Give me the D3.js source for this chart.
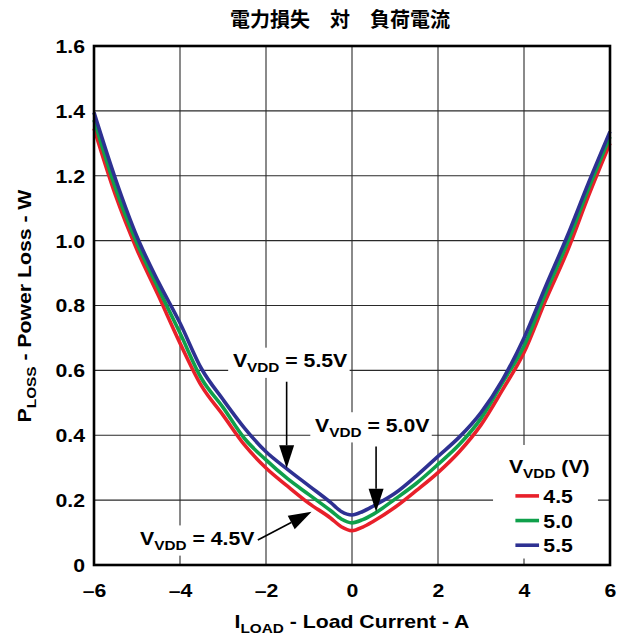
<!DOCTYPE html>
<html>
<head>
<meta charset="utf-8">
<script src="https://cdn.jsdelivr.net/npm/d3@7"></script>
<style>
  html, body { margin: 0; padding: 0; background: #fff; }
  svg { display: block; }
  text { font-family: "Liberation Sans", Arial, Helvetica, sans-serif; font-weight: bold; fill: #000; }
</style>
</head>
<body>
<svg id="chart" width="629" height="641"></svg>
<script>
// Load current (A) at which the loss was sampled
const current = [-6, -5.5, -5, -4.5, -4, -3.5, -3, -2.5, -2, -1.5, -1, -0.5, -0.25, 0,
                 0.25, 0.5, 1, 1.5, 2, 2.5, 3, 3.5, 4, 4.5, 5, 5.5, 6];

// Power loss (W) for each supply voltage
const loss45 = [1.346, 1.140, 0.972, 0.830, 0.684, 0.552, 0.462, 0.370, 0.299, 0.243, 0.190, 0.145, 0.118, 0.106,
                0.117, 0.135, 0.178, 0.230, 0.285, 0.350, 0.432, 0.540, 0.655, 0.815, 0.965, 1.138, 1.300];
const loss50 = [1.372, 1.162, 0.992, 0.852, 0.715, 0.575, 0.486, 0.390, 0.324, 0.266, 0.217, 0.168, 0.142, 0.130,
                0.140, 0.157, 0.203, 0.252, 0.310, 0.372, 0.452, 0.562, 0.675, 0.837, 0.990, 1.160, 1.320];
const loss55 = [1.395, 1.190, 1.012, 0.872, 0.746, 0.605, 0.510, 0.422, 0.349, 0.295, 0.244, 0.193, 0.165, 0.154,
                0.165, 0.182, 0.221, 0.275, 0.335, 0.395, 0.470, 0.571, 0.700, 0.858, 1.012, 1.178, 1.336];

const seriesNames = ["4.5", "5.0", "5.5"];
const seriesColors = ["#e8202a", "#0fa04b", "#2e3192"];

const xTicks = [-6, -4, -2, 0, 2, 4, 6];
const xTickLabels = ["\u20136", "\u20134", "\u20132", "0", "2", "4", "6"];
const yTicks = [0, 0.2, 0.4, 0.6, 0.8, 1.0, 1.2, 1.4, 1.6];
const yTickLabels = ["0", "0.2", "0.4", "0.6", "0.8", "1.0", "1.2", "1.4", "1.6"];

const titleText = "電力損失\u3000対\u3000負荷電流";

// Callouts pointing at individual curves (data coordinates)
const callouts = [
  { v: "5.5V", at: [-2.77, 0.61], tail: [-1.52, 0.565], tip: [-1.52, 0.298] },
  { v: "5.0V", at: [-0.86, 0.411], tail: [0.56, 0.365], tip: [0.56, 0.164] },
  { v: "4.5V", at: [-4.93, 0.062], tail: [-2.19, 0.077], tip: [-0.94, 0.164] }
];

const SX = 1.18;       // horizontal stretch of the lettering
const FS = 18;         // main font size
const SUB = 13;        // subscript font size

const svg = d3.select("#chart");
const x = d3.scaleLinear().domain([-6, 6]).range([94, 610]);
const y = d3.scaleLinear().domain([0, 1.6]).range([565, 46]);

// grid
const grid = svg.append("g");
grid.selectAll("line.v").data(xTicks.slice(1, -1)).join("line")
  .attr("x1", d => x(d)).attr("x2", d => x(d))
  .attr("y1", y(0)).attr("y2", y(1.6))
  .attr("stroke", "#2a2a2a").attr("stroke-width", 1.1);
grid.selectAll("line.h").data(yTicks.slice(1, -1)).join("line")
  .attr("y1", d => y(d)).attr("y2", d => y(d))
  .attr("x1", x(-6)).attr("x2", x(6))
  .attr("stroke", "#2a2a2a").attr("stroke-width", 1.1);

// stretched text helper, subscript-aware: parts = [[text, isSub], ...]
function label(parent, px, py, parts, anchor, size) {
  const g = parent.append("g").attr("transform", `translate(${px},${py}) scale(${SX},1)`);
  const t = g.append("text").attr("text-anchor", anchor || "start").style("font-size", (size || FS) + "px");
  let sub = false;
  parts.forEach(([s, isSub]) => {
    const ts = t.append("tspan").text(s);
    if (isSub && !sub) { ts.attr("dy", 5).style("font-size", SUB + "px"); sub = true; }
    else if (isSub) { ts.style("font-size", SUB + "px"); }
    else if (!isSub && sub) { ts.attr("dy", -5); sub = false; }
  });
  return { g, t };
}

// callout backgrounds + text
const noteLayer = svg.append("g");
callouts.forEach(c => {
  const lab = label(noteLayer, x(c.at[0]), y(c.at[1]), [["V", false], ["VDD", true], [" = " + c.v, false]]);
  const bb = lab.t.node().getBBox();
  lab.g.insert("rect", "text")
    .attr("x", bb.x - 4).attr("y", bb.y - 3)
    .attr("width", bb.width + 6).attr("height", bb.height + 6)
    .attr("fill", "#fff");
});

// legend background
const legend = svg.append("g");
legend.append("rect")
  .attr("x", x(3.28)).attr("y", y(0.37))
  .attr("width", x(5.72) - x(3.28)).attr("height", y(0.02) - y(0.37))
  .attr("fill", "#fff");

// curves
const lineGen = d3.line().curve(d3.curveMonotoneX).x(d => x(d[0])).y(d => y(d[1]));
[loss45, loss50, loss55].forEach((vals, i) => {
  svg.append("path")
    .datum(current.map((c, k) => [c, vals[k]]))
    .attr("d", lineGen)
    .attr("fill", "none")
    .attr("stroke", seriesColors[i])
    .attr("stroke-width", 3.6)
    .attr("stroke-linejoin", "round");
});

// callout arrows
const arrows = svg.append("g");
callouts.forEach(c => {
  const x0 = x(c.tail[0]), y0 = y(c.tail[1]), x1 = x(c.tip[0]), y1 = y(c.tip[1]);
  const len = Math.hypot(x1 - x0, y1 - y0);
  const ux = (x1 - x0) / len, uy = (y1 - y0) / len;
  const hl = 23, hw = 7.5;
  const bx = x1 - ux * hl, by = y1 - uy * hl;
  arrows.append("line").attr("x1", x0).attr("y1", y0).attr("x2", bx).attr("y2", by)
    .attr("stroke", "#000").attr("stroke-width", 1.6);
  arrows.append("path")
    .attr("d", `M${x1},${y1}L${bx - uy * hw},${by + ux * hw}L${bx + uy * hw},${by - ux * hw}Z`)
    .attr("fill", "#000");
});

// legend content
label(legend, x(3.65), y(0.285), [["V", false], ["VDD", true], [" (V)", false]]);
seriesNames.forEach((n, i) => {
  const yy = y(0.213 - i * 0.076);
  legend.append("line")
    .attr("x1", x(3.8)).attr("x2", x(4.35))
    .attr("y1", yy).attr("y2", yy)
    .attr("stroke", seriesColors[i]).attr("stroke-width", 3.6);
  label(legend, x(4.45), yy + 7, [[n, false]]);
});

// frame
svg.append("rect")
  .attr("x", x(-6)).attr("y", y(1.6))
  .attr("width", x(6) - x(-6)).attr("height", y(0) - y(1.6))
  .attr("fill", "none").attr("stroke", "#000").attr("stroke-width", 2.6);

// axes (labels only; the grid carries the tick positions)
const xAxis = d3.axisBottom(x).tickValues(xTicks).tickSize(0).tickPadding(0)
  .tickFormat((d, i) => xTickLabels[i]);
const gx = svg.append("g").attr("transform", `translate(0,${y(0)})`).call(xAxis);
gx.select(".domain").remove();
gx.selectAll("text").attr("y", 0).attr("dy", 0)
  .attr("transform", `translate(0,32) scale(${SX},1)`)
  .style("font-size", FS + "px").style("font-family", null).attr("fill", "#000");

const yAxis = d3.axisLeft(y).tickValues(yTicks).tickSize(0).tickPadding(0)
  .tickFormat((d, i) => yTickLabels[i]);
const gy = svg.append("g").attr("transform", `translate(${x(-6)},0)`).call(yAxis);
gy.select(".domain").remove();
gy.selectAll("text").attr("x", 0).attr("dy", "0.36em")
  .attr("transform", `translate(-9,0) scale(${SX},1)`)
  .style("font-size", FS + "px").style("font-family", null).attr("fill", "#000");

// axis titles
label(svg, 352, 628, [["I", false], ["LOAD", true], [" - Load Current - A", false]], "middle");
const yt = svg.append("g").attr("transform", `translate(31,306) rotate(-90) scale(${SX},1)`);
const ytt = yt.append("text").attr("text-anchor", "middle").style("font-size", FS + "px");
ytt.append("tspan").text("P");
ytt.append("tspan").text("LOSS").attr("dy", 5).style("font-size", SUB + "px");
ytt.append("tspan").text(" - Power Loss - W").attr("dy", -5);

// title
svg.append("text")
  .attr("x", 340).attr("y", 27)
  .attr("text-anchor", "middle")
  .style("font-family", "'Noto Sans CJK JP', 'Noto Sans CJK SC', sans-serif")
  .style("font-size", "20px")
  .style("font-weight", "bold")
  .text(titleText);
</script>
</body>
</html>
